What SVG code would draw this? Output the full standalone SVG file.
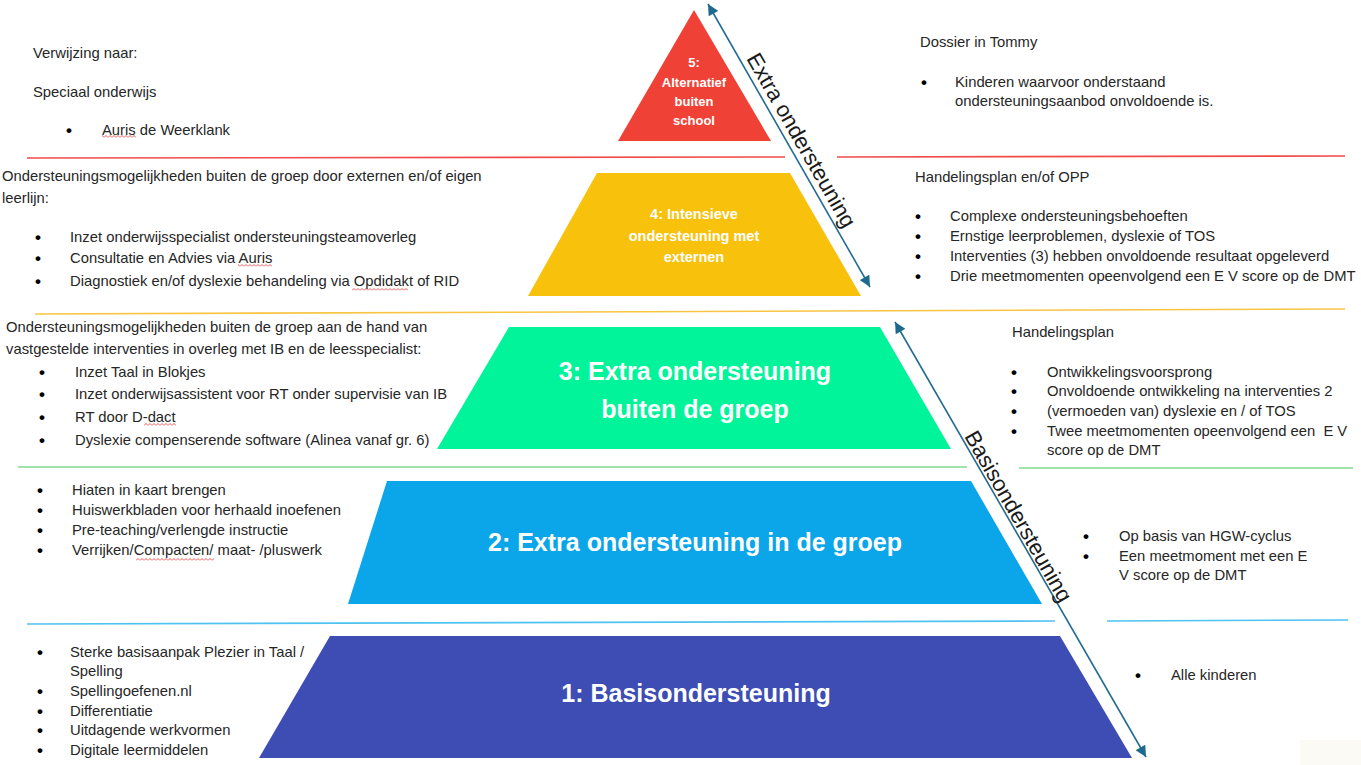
<svg xmlns="http://www.w3.org/2000/svg" width="1361" height="765" viewBox="0 0 1361 765">
<style>
.t{font-family:"Liberation Sans",Arial,sans-serif;font-size:14.8px;fill:#262626}
.b{font-family:"Liberation Sans",Arial,sans-serif;font-size:17px;font-weight:bold;fill:#000}
.lbl{font-family:"Liberation Sans",Arial,sans-serif;font-weight:bold;fill:#fff;text-anchor:middle}
.big{font-size:25px}
.mid{font-size:14.5px}
.sm{font-size:13px}
.rot{font-family:"Liberation Sans",Arial,sans-serif;font-size:22px;fill:#1a1a1a;text-anchor:middle}
.arr{stroke:#236C92;stroke-width:1.6;fill:none;marker-start:url(#ah);marker-end:url(#ah)}
.sep{stroke-width:1.6;fill:none}
</style>
<defs>
<marker id="ah" viewBox="0 0 10 10" refX="10" refY="5" markerWidth="12" markerHeight="11" orient="auto-start-reverse" markerUnits="userSpaceOnUse">
<path d="M0,0 L10,5 L0,10 z" fill="#1E6A8F"/>
</marker>
<pattern id="wavy" x="0" y="0" width="4" height="3" patternUnits="userSpaceOnUse">
<polyline points="0,2.5 2,0.5 4,2.5" fill="none" stroke="#E02A2A" stroke-width="0.8"/>
</pattern>
</defs>
<rect width="1361" height="765" fill="#ffffff"/>
<rect x="1300" y="740" width="61" height="25" fill="#FBFAF5"/>

<g id="separators">
<line class="sep" x1="27" y1="158" x2="785" y2="157" stroke="#F24A4A"/>
<line class="sep" x1="837" y1="157" x2="1345" y2="156" stroke="#F24A4A"/>
<line class="sep" x1="35" y1="314" x2="1345" y2="309" stroke="#F8C443"/>
<line class="sep" x1="18" y1="467" x2="967" y2="467" stroke="#7FDA8C"/>
<line class="sep" x1="1019" y1="468" x2="1353" y2="468" stroke="#7FDA8C"/>
<line class="sep" x1="27" y1="624" x2="1055" y2="621" stroke="#4EC2F0"/>
<line class="sep" x1="1107" y1="621" x2="1348" y2="620" stroke="#4EC2F0"/>
</g>

<g id="level5">
<polygon points="694,10 618,141 771,141" fill="#EF4136"/>
<text class="lbl sm" x="694" y="67">5:</text>
<text class="lbl sm" x="694" y="87">Alternatief</text>
<text class="lbl sm" x="694" y="106">buiten</text>
<text class="lbl sm" x="694" y="125">school</text>
</g>

<g id="level4">
<polygon points="597,173 790,173 861,296 528,296" fill="#F8C10C"/>
<text class="lbl mid" x="694" y="219">4: Intensieve</text>
<text class="lbl mid" x="694" y="241">ondersteuning met</text>
<text class="lbl mid" x="694" y="262">externen</text>
</g>

<g id="level3">
<polygon points="509,327 880,327 951,449 437,449" fill="#02F49A"/>
<text class="lbl big" x="695" y="380">3: Extra ondersteuning</text>
<text class="lbl big" x="695" y="418">buiten de groep</text>
</g>

<g id="level2">
<polygon points="387,481 971,481 1042,604 348,604" fill="#0BA5E9"/>
<text class="lbl big" x="695" y="551">2: Extra ondersteuning in de groep</text>
</g>

<g id="level1">
<polygon points="330,636 1060,636 1132,758 259,758" fill="#3D4DB3"/>
<text class="lbl big" x="696" y="702">1: Basisondersteuning</text>
</g>

<g id="connectors">
<line class="arr" x1="708" y1="4" x2="870" y2="287"/>
<line class="arr" x1="895" y1="322" x2="1146" y2="757"/>
<text class="rot" transform="translate(795,144) rotate(60.2)">Extra ondersteuning</text>
<text class="rot" transform="translate(1012,520) rotate(60.2)">Basisondersteuning</text>
</g>

<g id="text-left-5">
<text class="t" x="33" y="58">Verwijzing naar:</text>
<text class="t" x="33" y="97">Speciaal onderwijs</text>
<text class="b" x="66" y="136">•</text>
<text class="t" x="102" y="135">Auris de Weerklank</text>
<rect x="102" y="135" width="34" height="3" fill="url(#wavy)"/>
</g>

<g id="text-left-4">
<text class="t" x="2" y="181">Ondersteuningsmogelijkheden buiten de groep door externen en/of eigen</text>
<text class="t" x="2" y="203">leerlijn:</text>
<text class="b" x="35" y="243">•</text>
<text class="t" x="70" y="242">Inzet onderwijsspecialist ondersteuningsteamoverleg</text>
<text class="b" x="35" y="264">•</text>
<text class="t" x="70" y="263">Consultatie en Advies via Auris</text>
<rect x="238" y="264" width="34" height="3" fill="url(#wavy)"/>
<text class="b" x="35" y="287">•</text>
<text class="t" x="70" y="286">Diagnostiek en/of dyslexie behandeling via Opdidakt of RID</text>
<rect x="352" y="288" width="56" height="3" fill="url(#wavy)"/>
</g>

<g id="text-left-3">
<text class="t" x="6" y="332">Ondersteuningsmogelijkheden buiten de groep aan de hand van</text>
<text class="t" x="6" y="354">vastgestelde interventies in overleg met IB en de leesspecialist:</text>
<text class="b" x="39" y="378">•</text>
<text class="t" x="75" y="377">Inzet Taal in Blokjes</text>
<text class="b" x="39" y="400">•</text>
<text class="t" x="75" y="399">Inzet onderwijsassistent voor RT onder supervisie van IB</text>
<text class="b" x="39" y="423">•</text>
<text class="t" x="75" y="422">RT door D-dact</text>
<rect x="144" y="423" width="32" height="3" fill="url(#wavy)"/>
<text class="b" x="39" y="446">•</text>
<text class="t" x="75" y="445">Dyslexie compenserende software (Alinea vanaf gr. 6)</text>
</g>

<g id="text-left-2">
<text class="b" x="37" y="496">•</text>
<text class="t" x="72" y="495">Hiaten in kaart brengen</text>
<text class="b" x="37" y="516">•</text>
<text class="t" x="72" y="515">Huiswerkbladen voor herhaald inoefenen</text>
<text class="b" x="37" y="536">•</text>
<text class="t" x="72" y="535">Pre-teaching/verlengde instructie</text>
<text class="b" x="37" y="556">•</text>
<text class="t" x="72" y="555">Verrijken/Compacten/ maat- /pluswerk</text>
<rect x="136" y="558" width="78" height="3" fill="url(#wavy)"/>
</g>

<g id="text-left-1">
<text class="b" x="37" y="658">•</text>
<text class="t" x="70" y="657">Sterke basisaanpak Plezier in Taal /</text>
<text class="t" x="70" y="676">Spelling</text>
<text class="b" x="37" y="697">•</text>
<text class="t" x="70" y="696">Spellingoefenen.nl</text>
<text class="b" x="37" y="717">•</text>
<text class="t" x="70" y="716">Differentiatie</text>
<text class="b" x="37" y="736">•</text>
<text class="t" x="70" y="735">Uitdagende werkvormen</text>
<text class="b" x="37" y="756">•</text>
<text class="t" x="70" y="755">Digitale leermiddelen</text>
</g>

<g id="text-right-5">
<text class="t" x="920" y="47">Dossier in Tommy</text>
<text class="b" x="921" y="88">•</text>
<text class="t" x="955" y="87">Kinderen waarvoor onderstaand</text>
<text class="t" x="955" y="106">ondersteuningsaanbod onvoldoende is.</text>
</g>

<g id="text-right-4">
<text class="t" x="915" y="182">Handelingsplan en/of OPP</text>
<text class="b" x="915" y="222">•</text>
<text class="t" x="950" y="221">Complexe ondersteuningsbehoeften</text>
<text class="b" x="915" y="242">•</text>
<text class="t" x="950" y="241">Ernstige leerproblemen, dyslexie of TOS</text>
<text class="b" x="915" y="262">•</text>
<text class="t" x="950" y="261">Interventies (3) hebben onvoldoende resultaat opgeleverd</text>
<text class="b" x="915" y="282">•</text>
<text class="t" x="950" y="281">Drie meetmomenten opeenvolgend een E V score op de DMT</text>
</g>

<g id="text-right-3">
<text class="t" x="1012" y="337">Handelingsplan</text>
<text class="b" x="1011" y="378">•</text>
<text class="t" x="1047" y="377">Ontwikkelingsvoorsprong</text>
<text class="b" x="1011" y="397">•</text>
<text class="t" x="1047" y="396">Onvoldoende ontwikkeling na interventies 2</text>
<text class="b" x="1011" y="417">•</text>
<text class="t" x="1047" y="416">(vermoeden van) dyslexie en / of TOS</text>
<text class="b" x="1011" y="437">•</text>
<text class="t" x="1047" y="436" xml:space="preserve">Twee meetmomenten opeenvolgend een  E V</text>
<text class="t" x="1047" y="455">score op de DMT</text>
</g>

<g id="text-right-2">
<text class="b" x="1083" y="542">•</text>
<text class="t" x="1119" y="541">Op basis van HGW-cyclus</text>
<text class="b" x="1083" y="562">•</text>
<text class="t" x="1119" y="561">Een meetmoment met een E</text>
<text class="t" x="1119" y="580">V score op de DMT</text>
</g>

<g id="text-right-1">
<text class="b" x="1135" y="681">•</text>
<text class="t" x="1171" y="680">Alle kinderen</text>
</g>
</svg>
